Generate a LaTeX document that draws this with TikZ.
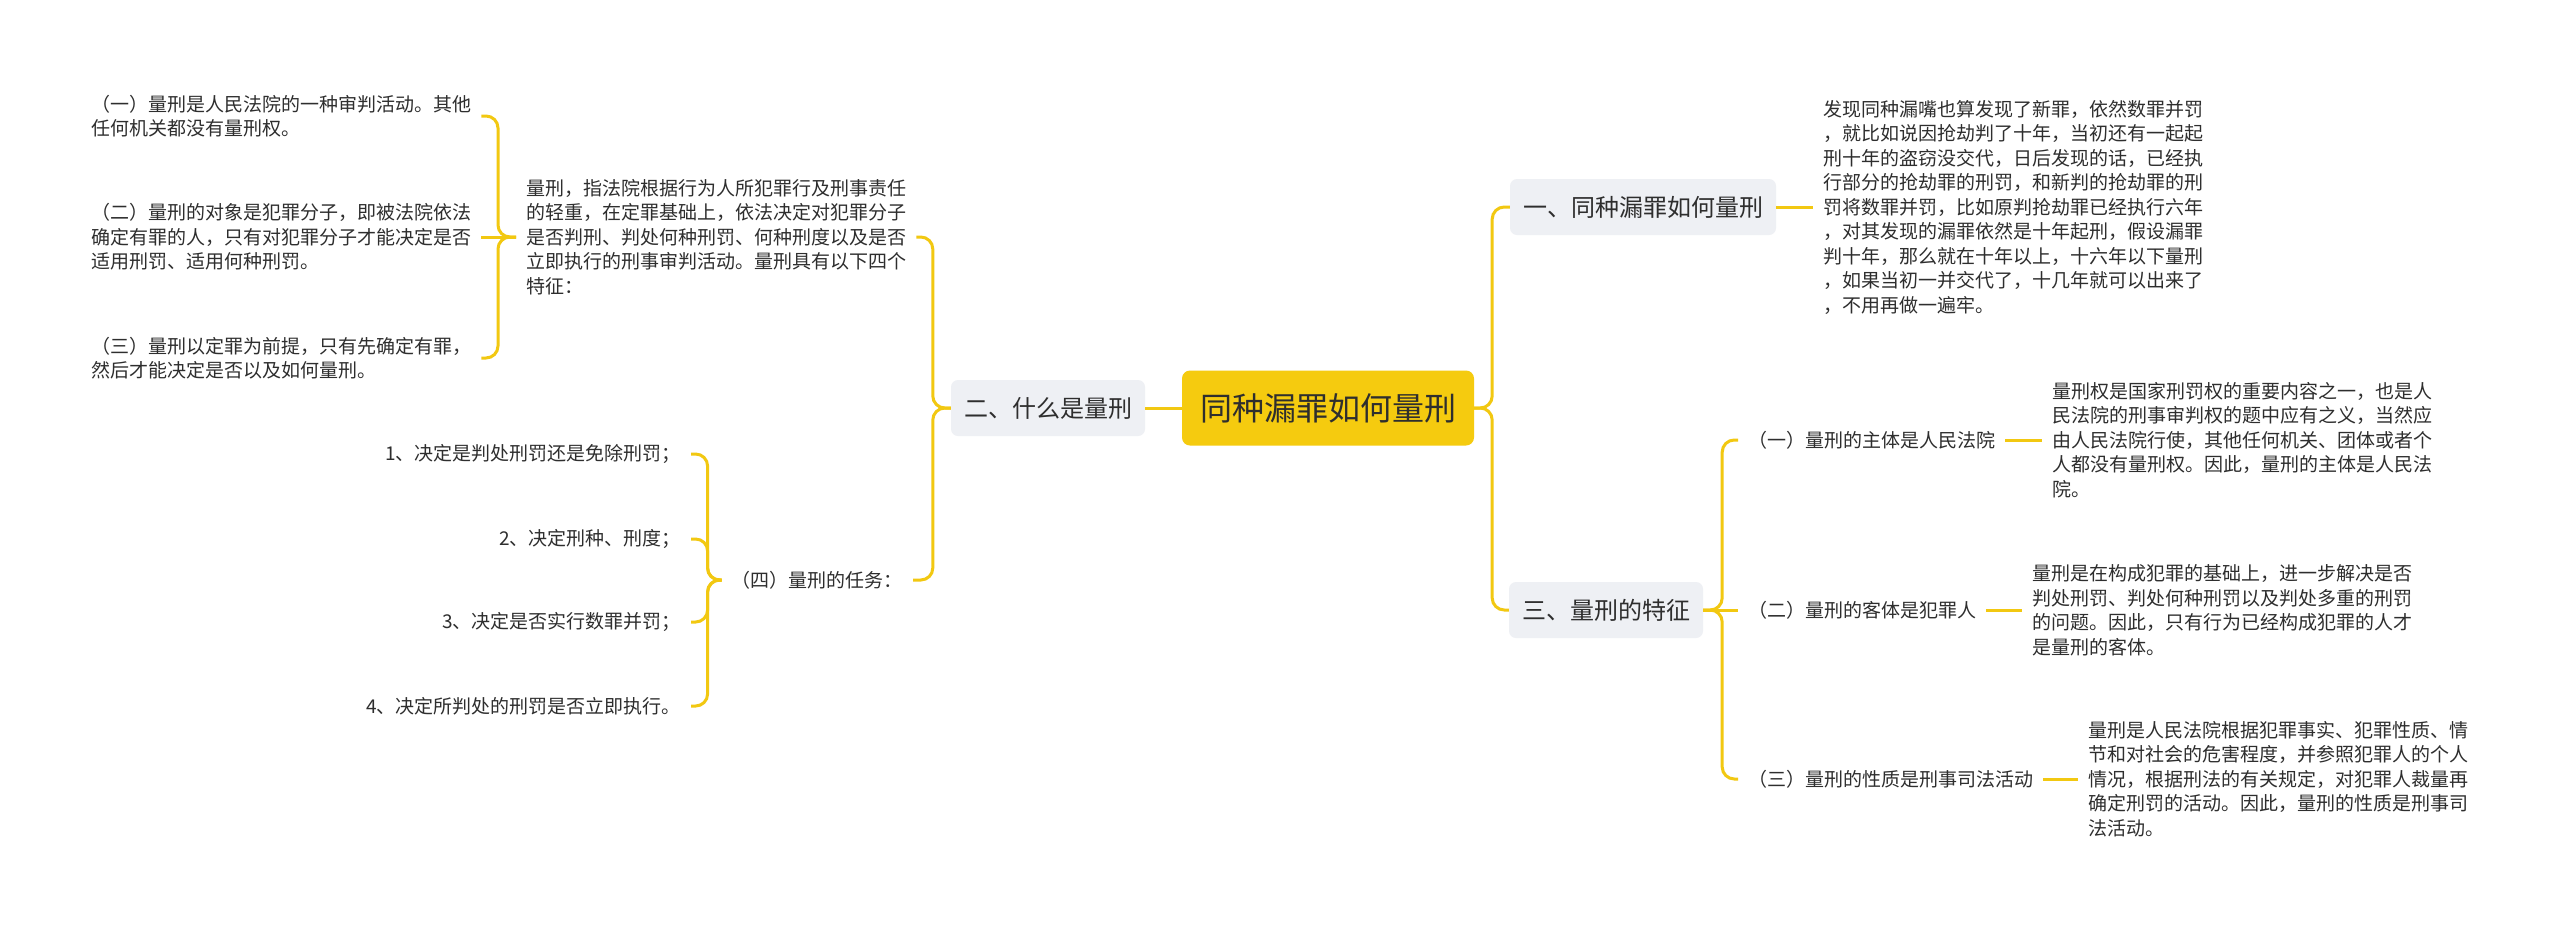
\documentclass[tikz,border=0pt]{standalone}
\usepackage{fontspec}
\setmainfont{Noto Sans CJK SC}
\definecolor{lineY}{HTML}{F2C811}
\definecolor{rootY}{HTML}{F5CB0F}
\definecolor{boxG}{HTML}{EEF0F4}
\definecolor{txt}{HTML}{2E2E2E}
\begin{document}
\begin{tikzpicture}[x=1pt,y=-1pt,
  conn/.style={draw=lineY, line width=3pt, rounded corners=12pt},
  flat/.style={draw=lineY, line width=3pt},
  rootbox/.style={fill=rootY, rounded corners=8pt, text=txt, font=\fontsize{32}{38}\selectfont, minimum height=75pt, inner xsep=18pt},
  branchbox/.style={fill=boxG, rounded corners=7pt, text=txt, font=\fontsize{24}{29}\selectfont, minimum height=56pt, inner xsep=13pt},
  leaf/.style={text=txt, font=\fontsize{19}{24}\selectfont, inner xsep=10pt, inner ysep=3pt},
  bodytext/.style={text=txt, font=\fontsize{19}{24.5}\selectfont, align=left, inner xsep=10pt, inner ysep=3pt},
]
\useasboundingbox[fill=white] (0,0) rectangle (2560,930);

% root and branches
\node[rootbox] (root) at (1328,408) {同种漏罪如何量刑};
\node[branchbox] (b1) at (1643,207) {一、同种漏罪如何量刑};
\node[branchbox] (b2) at (1048,408) {二、什么是量刑};
\node[branchbox] (b3) at (1606,610) {三、量刑的特征};

% right: branch 1
\node[bodytext, anchor=west] (d1) at (1813,207) {发现同种漏嘴也算发现了新罪，依然数罪并罚\\，就比如说因抢劫判了十年，当初还有一起起\\刑十年的盗窃没交代，日后发现的话，已经执\\行部分的抢劫罪的刑罚，和新判的抢劫罪的刑\\罚将数罪并罚，比如原判抢劫罪已经执行六年\\，对其发现的漏罪依然是十年起刑，假设漏罪\\判十年，那么就在十年以上，十六年以下量刑\\，如果当初一并交代了，十几年就可以出来了\\，不用再做一遍牢。};

% right: branch 3
\node[leaf, anchor=west] (r1) at (1738,440) {（一）量刑的主体是人民法院};
\node[leaf, anchor=west] (r2) at (1738,610) {（二）量刑的客体是犯罪人};
\node[leaf, anchor=west] (r3) at (1738,779) {（三）量刑的性质是刑事司法活动};
\node[bodytext, anchor=west] (rd1) at (2042,440) {量刑权是国家刑罚权的重要内容之一，也是人\\民法院的刑事审判权的题中应有之义，当然应\\由人民法院行使，其他任何机关、团体或者个\\人都没有量刑权。因此，量刑的主体是人民法\\院。};
\node[bodytext, anchor=west] (rd2) at (2022,610) {量刑是在构成犯罪的基础上，进一步解决是否\\判处刑罚、判处何种刑罚以及判处多重的刑罚\\的问题。因此，只有行为已经构成犯罪的人才\\是量刑的客体。};
\node[bodytext, anchor=west] (rd3) at (2078,779) {量刑是人民法院根据犯罪事实、犯罪性质、情\\节和对社会的危害程度，并参照犯罪人的个人\\情况，根据刑法的有关规定，对犯罪人裁量再\\确定刑罚的活动。因此，量刑的性质是刑事司\\法活动。};

% left: branch 2
\node[bodytext, anchor=west] (ld) at (516,237) {量刑，指法院根据行为人所犯罪行及刑事责任\\的轻重，在定罪基础上，依法决定对犯罪分子\\是否判刑、判处何种刑罚、何种刑度以及是否\\立即执行的刑事审判活动。量刑具有以下四个\\特征：};
\node[bodytext, anchor=west] (l1) at (81,116) {（一）量刑是人民法院的一种审判活动。其他\\任何机关都没有量刑权。};
\node[bodytext, anchor=west] (l2) at (81,237) {（二）量刑的对象是犯罪分子，即被法院依法\\确定有罪的人，只有对犯罪分子才能决定是否\\适用刑罚、适用何种刑罚。};
\node[bodytext, anchor=west] (l3) at (81,358) {（三）量刑以定罪为前提，只有先确定有罪，\\然后才能决定是否以及如何量刑。};
\node[leaf, anchor=east] (l4) at (913,580) {（四）量刑的任务：};
\node[leaf, anchor=east] (t1) at (691,454) {1、决定是判处刑罚还是免除刑罚；};
\node[leaf, anchor=east] (t2) at (691,539) {2、决定刑种、刑度；};
\node[leaf, anchor=east] (t3) at (691,622) {3、决定是否实行数罪并罚；};
\node[leaf, anchor=east] (t4) at (691,706) {4、决定所判处的刑罚是否立即执行。};

% connectors
\draw[flat] (root.west) -- (b2.east);
\draw[conn] (root.east) -- ++(18,0) |- (b1.west);
\draw[conn] (root.east) -- ++(18,0) |- (b3.west);
\draw[flat] (b1.east) -- (d1.west);
\draw[conn] (b3.east) -- ++(19,0) |- (r1.west);
\draw[flat] (b3.east) -- (r2.west);
\draw[conn] (b3.east) -- ++(19,0) |- (r3.west);
\draw[flat] (r1.east) -- (rd1.west);
\draw[flat] (r2.east) -- (rd2.west);
\draw[flat] (r3.east) -- (rd3.west);
\draw[conn] (b2.west) -- ++(-18,0) |- (ld.east);
\draw[conn] (b2.west) -- ++(-18,0) |- (l4.east);
\draw[conn] (ld.west) -- ++(-18,0) |- (l1.east);
\draw[flat] (ld.west) -- (l2.east);
\draw[conn] (ld.west) -- ++(-18,0) |- (l3.east);
\draw[conn] (l4.west) -- ++(-14,0) |- (t1.east);
\draw[conn] (l4.west) -- ++(-14,0) |- (t2.east);
\draw[conn] (l4.west) -- ++(-14,0) |- (t3.east);
\draw[conn] (l4.west) -- ++(-14,0) |- (t4.east);
\end{tikzpicture}
\end{document}
